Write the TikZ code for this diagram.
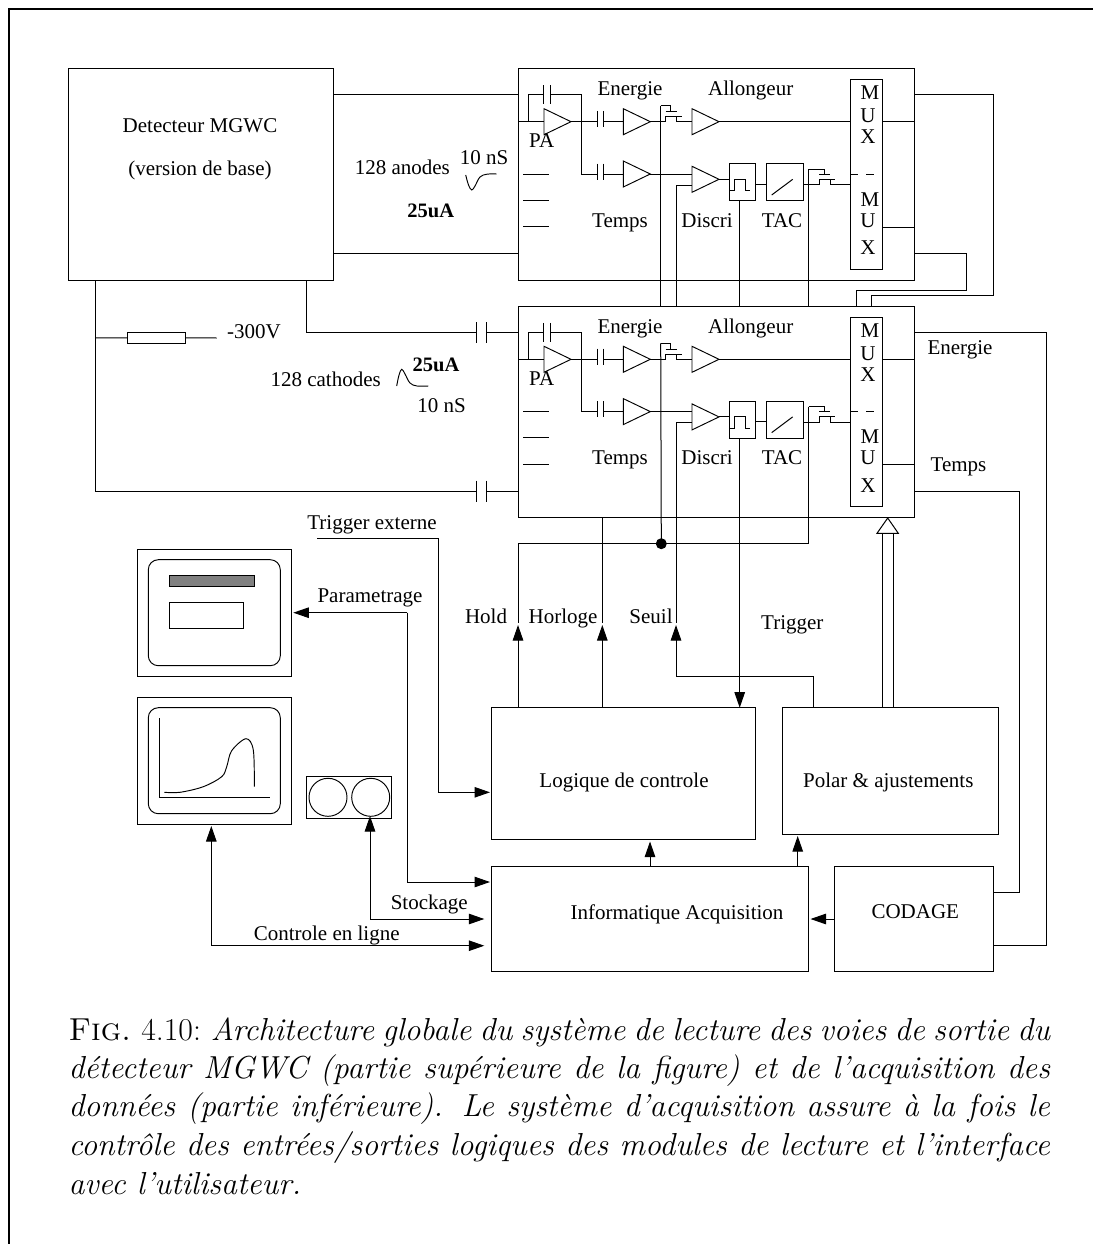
\documentclass[tikz,border=0pt]{standalone}
\usepackage{fontspec}
\newfontfamily\diagfont{Liberation Serif}
\usetikzlibrary{arrows.meta,calc}
\tikzset{
  blk/.style={draw=black,line width=1pt,inner sep=0pt,outer sep=0pt},
  wire/.style={draw=black,line width=1pt,line join=miter},
  thinwire/.style={draw=black,line width=.95pt},
  arr/.style={wire,-{Triangle[length=15.5pt,width=10.5pt]}},
  txt/.style={inner sep=0pt,outer sep=0pt,anchor=base,font=\diagfont\fontsize{21}{24}\selectfont},
  btxt/.style={txt,font=\diagfont\bfseries\fontsize{20.5}{24}\selectfont},
  captxt/.style={inner sep=0pt,outer sep=0pt,anchor=base west,font=\fontsize{31.8}{38}\selectfont},
}
\newcommand{\bx}[5]{%
  \pgfmathsetmacro\bxw{#4-#2}\pgfmathsetmacro\bxh{#5-#3}%
  \pgfmathsetmacro\bxcx{(#2+#4)/2}\pgfmathsetmacro\bxcy{(#3+#5)/2}%
  \node[blk,minimum width=\bxw pt,minimum height=\bxh pt] (#1) at (\bxcx,\bxcy) {};}
\newcommand{\lab}[4]{\pgfmathsetmacro\laby{#3+7}\node[txt] (#1) at (#2,\laby) {#4};}
\newcommand{\blab}[4]{\pgfmathsetmacro\laby{#3+7}\node[btxt] (#1) at (#2,\laby) {#4};}
\newcommand{\amp}[3]{% name, left x, centre y
  \coordinate (#1i) at (#2,#3);
  \coordinate (#1o) at ($(#2,#3)+(27,0)$);
  \draw[thinwire,line join=miter] (#2,#3-13) -- (#1o) -- (#2,#3+13) -- cycle;}
\newcommand{\plates}[4]{% x1 x2 y half
  \draw[wire] (#1,#3-#4) -- (#1,#3+#4) (#2,#3-#4) -- (#2,#3+#4);}
\newcommand{\readout}[2]{%
\begin{scope}[shift={(0,#2)}]
  \bx{#1box}{518}{69}{914}{280}
  \bx{#1mux}{850.7}{79.5}{882}{269}
  \bx{#1dis}{729.3}{163.7}{755.7}{200.7}
  \bx{#1tac}{766}{163.7}{803.3}{200.7}
  \amp{#1pa}{544}{121.7}
  \amp{#1e}{623.3}{121.7}
  \amp{#1al}{692}{121.7}
  \amp{#1t}{623.3}{174}
  \amp{#1d}{692}{179.3}
  % input and preamplifier feedback
  \draw[wire] (#1box.west |- #1pai) -- (#1pai);
  \draw[wire] (528.5,121.7) -- (528.5,94.7) -- (543.5,94.7);
  \draw[wire] (550,94.7) -- (581,94.7) -- (581,174) -- (597,174);
  \plates{543.5}{550}{94.7}{9.5}
  % energy branch
  \draw[wire] (#1pao) -- (597,121.7);
  \plates{597}{603}{119}{8}
  \plates{597}{603}{171.5}{8}
  \draw[wire] (603,121.7) -- (#1ei);
  \draw[wire] (603,174) -- (#1ti);
  \draw[wire] (#1eo) -- (665.7,121.7) -- (665.7,116.7) -- (681.7,116.7);
  \draw[wire] (676.7,116.7) -- (676.7,121.7) -- (#1ali);
  \draw[wire] (665.7,111.7) -- (676.7,111.7);
  \coordinate (#1gE) at (660.7,105.7);
  \draw[wire] (#1gE) -- (670.7,105.7) -- (670.7,111.7);
  \draw[wire] (#1alo) -- (#1mux.west |- #1alo);
  \draw[wire] (#1mux.east |- #1alo) -- (#1box.east |- #1alo);
  % time branch
  \draw[wire] (#1to) -- (692,174);
  \coordinate (#1sI) at (676,185);
  \draw[wire] (#1sI) -- (692,185);
  \draw[wire] (#1do) -- (#1dis.west |- #1do);
  \draw[wire] (729.3,190.7) -- (734.3,190.7) -- (734.3,179.3) -- (745,179.3) -- (745,190.7) -- (750.3,190.7);
  \draw[wire] (#1dis.east |- 0,184) -- (#1tac.west |- 0,184);
  \draw[wire] (771.7,195) -- (792.7,179.3);
  \draw[wire] (#1tac.east |- 0,184.7) -- (819,184.7) -- (819,179.3) -- (834.7,179.3);
  \draw[wire] (830,179.3) -- (830,184.7) -- (#1mux.west |- 0,184.7);
  \draw[wire] (819,174.3) -- (830,174.3);
  \coordinate (#1gT) at (808.7,169);
  \draw[wire] (#1gT) -- (824.3,169) -- (824.3,174.3);
  \draw[wire] (851,174) -- (858,174) (866,174) -- (874,174);
  \draw[wire] (#1mux.east |- 0,227.3) -- (#1box.east |- 0,227.3);
  % channel dashes
  \draw[wire] (523,174) -- (549,174) (523,200.3) -- (549,200.3) (523,226.7) -- (549,226.7);
  \coordinate (#1tD) at (739.7,200.7);
  % labels
  \lab{#1l1}{630}{89}{Energie}
  \lab{#1l2}{750.7}{89}{Allongeur}
  \lab{#1l3}{541.7}{140.7}{PA}
  \lab{#1l4}{620}{220}{Temps}
  \lab{#1l5}{707}{220}{Discri}
  \lab{#1l6}{782}{220}{TAC}
  \lab{#1m1}{870}{93}{M}
  \lab{#1m2}{868}{116}{U}
  \lab{#1m3}{868}{136.7}{X}
  \lab{#1m4}{870}{199}{M}
  \lab{#1m5}{868}{220}{U}
  \lab{#1m6}{868}{247.7}{X}
\end{scope}}
\begin{document}
\begin{tikzpicture}[x=1pt,y=-1pt]
\useasboundingbox[fill=white] (0,0) rectangle (1093,1244);
% page frame
\coordinate (fb) at (9,1244); \coordinate (fc) at (9,9); \coordinate (fr) at (1093,9);
\draw[line width=2pt] (fb) -- (fc) -- (fr);
% detector
\bx{det}{68.7}{69}{333.3}{280}
\lab{detA}{200}{125}{Detecteur MGWC}
\lab{detB}{200}{168}{(version de base)}
% readout modules
\readout{a}{0}
\readout{c}{237.6}
% detector to modules
\draw[wire] (det.east |- 0,94.7) -- (abox.west |- 0,94.7);
\draw[wire] (det.east |- 0,253) -- (abox.west |- 0,253);
\coordinate (kneeA) at (306.7,332.5);
\coordinate (kneeB) at (95.3,491);
\draw[wire] (det.south -| kneeA) -- (kneeA) -- (476,332.5);
\plates{476}{486.3}{332.5}{10.5}
\draw[wire] (486.3,332.5) -- (cbox.west |- 0,332.5);
\draw[wire] (det.south -| kneeB) -- (kneeB) -- (476,491);
\plates{476}{486.3}{491}{10.5}
\draw[wire] (486.3,491) -- (cbox.west |- 0,491);
% bias resistor
\bx{res}{127}{332.3}{185.7}{343.3}
\coordinate (hv) at (216.7,338);
\draw[wire] (95.3,338) -- (res.west);
\draw[wire] (res.east) -- (hv);
\lab{hvl}{254}{331.7}{-300V}
% pulse labels
\lab{an}{402.3}{167.3}{128 anodes}
\lab{ant}{484}{157.7}{10 nS}
\blab{anc}{430.7}{210}{25uA}
\draw[thinwire] plot[smooth,tension=.6] coordinates {(465.7,175) (468.5,185) (471.7,190) (475,186) (480,177) (487,174.2) (496.7,174)};
\lab{ca}{325.7}{379.3}{128 cathodes}
\blab{cac}{436}{364}{25uA}
\lab{cat}{441.7}{405.7}{10 nS}
\draw[thinwire] plot[smooth,tension=.6] coordinates {(396.7,386) (399,375) (401.7,369.3) (405,374) (410,383) (417,386) (428.3,386)};
% outputs of the upper module
\coordinate (r1) at (993.3,94.7);
\coordinate (r2) at (966.7,253);
\draw[wire] (abox.east |- r1) -- (r1) -- (993.3,295.7) -- (871.7,295.7) -- (cbox.north -| 871.7,0);
\draw[wire] (abox.east |- r2) -- (r2) -- (966.7,290.3) -- (856,290.3) -- (cbox.north -| 856,0);
% lower boxes
\bx{logic}{491.3}{707.7}{755.7}{839.8}
\bx{polar}{782}{707.7}{998.7}{834.3}
\bx{info}{491.3}{866}{808.3}{971}
\bx{codage}{834.7}{866}{993.3}{971}
\lab{logicl}{624}{780}{Logique de controle}
\lab{polarl}{888.3}{780}{Polar \& ajustements}
\lab{infol}{677}{912}{Informatique Acquisition}
\lab{codagel}{915.3}{911.7}{CODAGE}
% outputs of the lower module to the coder
\draw[wire] (cbox.east |- 0,332.5) -- (1046.3,332.5) -- (1046.3,945.3) -- (codage.east |- 0,945.3);
\draw[wire] (cbox.east |- 0,491) -- (1019.7,491) -- (1019.7,892.7) -- (codage.east |- 0,892.7);
\lab{lenergie}{960}{347}{Energie}
\lab{ltemps}{958.5}{464}{Temps}
% logic signal lines
\node[circle,fill=black,inner sep=0pt,outer sep=0pt,minimum size=11pt] (dot) at (661.3,543.7) {};
\coordinate (hsplit) at (518,543.7);
\coordinate (hright) at (808.7,543.7);
\draw[wire] (agE) -- (cbox.north -| agE);
\draw[wire] (agT) -- (cbox.north -| agT);
\draw[wire] (asI) -- (cbox.north -| asI);
\draw[wire] (atD) -- (cbox.north -| atD);
\draw[wire] (cgE) -- (dot.center);
\draw[wire] (cgT) -- (hright) -- (hsplit) -- (518,623);
\draw[arr] (logic.north -| hsplit) -- (518,625);
\draw[wire] (cbox.south -| 602.3,0) -- (602.3,623);
\draw[arr] (logic.north -| 602.3,0) -- (602.3,625);
\draw[wire] (csI) -- (676,623);
\draw[arr] (polar.north -| 813.7,0) -- (813.7,676) -- (676,676) -- (676,625);
\draw[arr] (ctD) -- (logic.north -| ctD);
% analog supply double arrow
\coordinate (dtip) at (887.7,518);
\draw[wire] (polar.north -| 882.3,0) -- (882.3,533.3) (polar.north -| 893,0) -- (893,533.3);
\draw[wire,fill=white] (dtip) -- (877,533.3) -- (898.3,533.3) -- cycle;
\lab{lhold}{486}{616}{Hold}
\lab{lhor}{563}{616}{Horloge}
\lab{lseuil}{651}{616}{Seuil}
\lab{ltrig}{792.3}{622.3}{Trigger}
% acquisition arrows
\draw[arr] (info.north -| 650,0) -- (650,841.5);
\draw[arr] (info.north -| 797.7,0) -- (797.7,836);
\draw[arr] (codage.west |- 0,919) -- (810.5,919);
% screens
\bx{scrA}{137.3}{549.3}{291}{676}
\draw[thinwire,rounded corners=10pt] (148.3,559.7) rectangle (280.3,665.7);
\draw[line width=1pt,fill=black!50] (169.3,575.7) rectangle (254,586.7);
\draw[thinwire] (169.3,602) rectangle (243.7,628.7);
\bx{scrB}{137.3}{697.3}{291}{824}
\draw[thinwire,rounded corners=10pt] (148.3,707.7) rectangle (280.3,813.7);
\draw[thinwire] (159,718.3) -- (159,797.3) -- (269.7,797.3);
\draw[thinwire] plot[smooth,tension=.55] coordinates {(164.3,792.3) (180,792.3) (203.3,786.7) (221.7,776.7) (226.7,766.7) (231.7,750.7) (246,738.7) (253.3,750) (254.3,786.7)};
\bx{disk}{306.7}{776.7}{391.3}{818.3}
\draw[thinwire] (328,797.3) circle[radius=19];
\draw[thinwire] (370.7,797.3) circle[radius=19];
% user interface arrows
\coordinate (te) at (317.3,538.7);
\coordinate (tk) at (438.7,792.3);
\draw[arr] (te) -- (438.7,538.7) -- (tk) -- (490,792.3);
\coordinate (pk) at (407.3,612.7);
\draw[arr] (pk) -- (293.3,612.7);
\draw[arr] (pk) -- (407.3,882) -- (490,882);
\coordinate (sk) at (370,919);
\draw[arr] (sk) -- (370,816);
\draw[arr] (sk) -- (484.3,919);
\coordinate (ck) at (211.3,945.7);
\draw[arr] (ck) -- (211.3,826);
\draw[arr] (ck) -- (484.3,945.7);
\lab{ltx}{372}{522}{Trigger externe}
\lab{lpar}{370}{595}{Parametrage}
\lab{lsto}{429.3}{902.3}{Stockage}
\lab{lctl}{326.7}{933.3}{Controle en ligne}
% caption
\node[captxt] (cap1) at (68.5,1040) {\hbox to 981.5pt{{\scshape Fig.}\kern10pt 4.10:\kern10pt\itshape Architecture globale du système de lecture des voies de sortie du}};
\node[captxt] (cap2) at (68.5,1078.4) {\hbox to 981.5pt{\itshape détecteur MGWC (partie supérieure de la figure) et de l’acquisition des}};
\node[captxt] (cap3) at (68.5,1116.8) {\hbox to 981.5pt{\itshape données (partie inférieure). Le système d’acquisition assure à la fois le}};
\node[captxt] (cap4) at (68.5,1155.4) {\hbox to 981.5pt{\itshape contrôle des entrées/sorties logiques des modules de lecture et l’interface}};
\node[captxt] (cap5) at (68.5,1194) {\itshape avec l’utilisateur.};
\end{tikzpicture}
\end{document}
